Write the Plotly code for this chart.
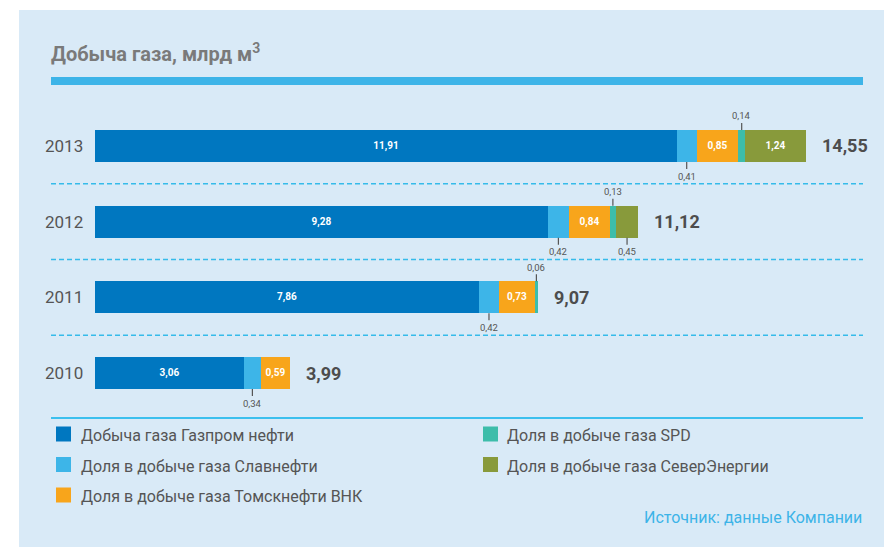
import plotly.graph_objects as go

# ---------------- data ----------------
years = ["2010", "2011", "2012", "2013"]
series_names = [
    "Добыча газа Газпром нефти",
    "Доля в добыче газа Славнефти",
    "Доля в добыче газа Томскнефти ВНК",
    "Доля в добыче газа SPD",
    "Доля в добыче газа СеверЭнергии",
]
gazprom = [3.06, 7.86, 9.28, 11.91]
slavneft = [0.34, 0.42, 0.42, 0.41]
tomskneft = [0.59, 0.73, 0.84, 0.85]
spd = [0.0, 0.06, 0.13, 0.14]
severenergy = [0.0, 0.0, 0.45, 1.24]
totals = [3.99, 9.07, 11.12, 14.55]

title_text = "Добыча газа, млрд м<sup>3</sup>"
source_text = "Источник: данные Компании"

# ---------------- style ----------------
colors = ["#0077c0", "#3db5e8", "#f8a51b", "#3dbdaa", "#889a3b"]
label_side = [None, "below", None, "above", "below"]   # where small values go
FONT = "Roboto, Liberation Sans, sans-serif"
OFF = 8                       # page body margin
W, H = 892 - OFF, 547 - OFF
GRAY = "#555555"

def fmt(v):
    return f"{v:.2f}".replace(".", ",")

def px(x):
    return (x - OFF) / W

def py(y):
    return 1 - (y - OFF) / H

series_vals = [gazprom, slavneft, tomskneft, spd, severenergy]
ypos = list(range(len(years)))
BAR_W = 0.423

fig = go.Figure()
for name, vals, col in zip(series_names, series_vals, colors):
    fig.add_trace(go.Bar(
        y=ypos, x=vals, orientation="h", name=name,
        marker=dict(color=col, line=dict(width=0)),
        width=BAR_W,
        text=[fmt(v) for v in vals],
        textposition=["inside" if v >= 0.5 else "none" for v in vals],
        insidetextanchor="middle",
        textangle=0, constraintext="none",
        textfont=dict(family=FONT, size=10, color="white", weight="bold"),
        hoverinfo="skip", showlegend=False,
    ))

annotations = []
shapes = []

# panel background
shapes.append(dict(type="rect", xref="paper", yref="paper",
                   x0=px(19), x1=px(900), y0=py(548), y1=py(10),
                   fillcolor="#d9eaf7", line=dict(width=0), layer="below"))
# blue header band
shapes.append(dict(type="rect", xref="paper", yref="paper",
                   x0=px(51), x1=px(863), y0=py(85), y1=py(77),
                   fillcolor="#3db4e8", line=dict(width=0), layer="below"))

# separators between years (dashed) and bottom solid line
for i in range(len(years) - 1):
    shapes.append(dict(type="line", xref="paper", yref="y",
                       x0=px(51), x1=px(863), y0=i + 0.5, y1=i + 0.5,
                       line=dict(color="#36bbea", width=1.5, dash="5px,3px"), layer="below"))
shapes.append(dict(type="line", xref="paper", yref="y",
                   x0=px(51), x1=px(863), y0=-0.595, y1=-0.595,
                   line=dict(color="#3cc0ee", width=2), layer="below"))

# year labels, totals, small value labels
for i, yr in enumerate(years):
    annotations.append(dict(text=yr, xref="paper", yref="y", x=px(85), y=i,
                            xanchor="right", yanchor="middle", showarrow=False,
                            font=dict(family=FONT, size=17, color=GRAY)))
    annotations.append(dict(text=fmt(totals[i]), xref="x", yref="y", x=totals[i], y=i,
                            xanchor="left", yanchor="middle", xshift=14, showarrow=False,
                            font=dict(family=FONT, size=18, color="#4d4d4d", weight="bold")))
    base = 0.0
    for s, vals in enumerate(series_vals):
        v = vals[i]
        if v > 0 and v < 0.5 and label_side[s]:
            sign = 1 if label_side[s] == "below" else -1
            annotations.append(dict(
                text=fmt(v), xref="x", yref="y", x=base + v / 2,
                y=i - sign * BAR_W / 2, showarrow=True, arrowhead=0,
                arrowwidth=1.2, arrowcolor=GRAY, ax=0, ay=sign * 14, standoff=0,
                font=dict(family=FONT, size=9.5, color=GRAY)))
        base += v

# title
annotations.append(dict(text=title_text, xref="paper", yref="paper", x=px(49), y=py(53),
                        xanchor="left", yanchor="middle", showarrow=False,
                        font=dict(family=FONT, size=20, color="#7a7a7a", weight="bold")))

# manual legend: two columns
leg_cols = [(56, 79), (483, 505)]
leg_rows = [434, 464.5, 495]
leg_order = [(0, 0, 0), (1, 0, 1), (2, 0, 2), (3, 1, 0), (4, 1, 1)]
for s, c, r in leg_order:
    sx, tx = leg_cols[c]
    cy = leg_rows[r]
    shapes.append(dict(type="rect", xref="paper", yref="paper",
                       x0=px(sx), x1=px(sx + 15), y0=py(cy + 7.5), y1=py(cy - 7.5),
                       fillcolor=colors[s], line=dict(width=0)))
    annotations.append(dict(text=series_names[s], xref="paper", yref="paper",
                            x=px(tx), y=py(cy + 1.5), xanchor="left", yanchor="middle",
                            showarrow=False, font=dict(family=FONT, size=16, color=GRAY)))

annotations.append(dict(text=source_text, xref="paper", yref="paper", x=px(864), y=py(517),
                        xanchor="right", yanchor="middle", showarrow=False,
                        font=dict(family=FONT, size=16, color="#3db4e8")))

fig.update_layout(
    width=W, height=H, autosize=False,
    margin=dict(l=0, r=0, t=0, b=0, pad=0),
    paper_bgcolor="white", plot_bgcolor="rgba(0,0,0,0)",
    barmode="stack", bargap=0,
    xaxis=dict(range=[-1.7697, 16.315], visible=False, fixedrange=True, domain=[0, 1]),
    yaxis=dict(range=[-2.2994, 4.8236], visible=False, fixedrange=True, domain=[0, 1]),
    shapes=shapes, annotations=annotations,
    uniformtext=dict(mode=False),
)

fig.write_html("out.html")
